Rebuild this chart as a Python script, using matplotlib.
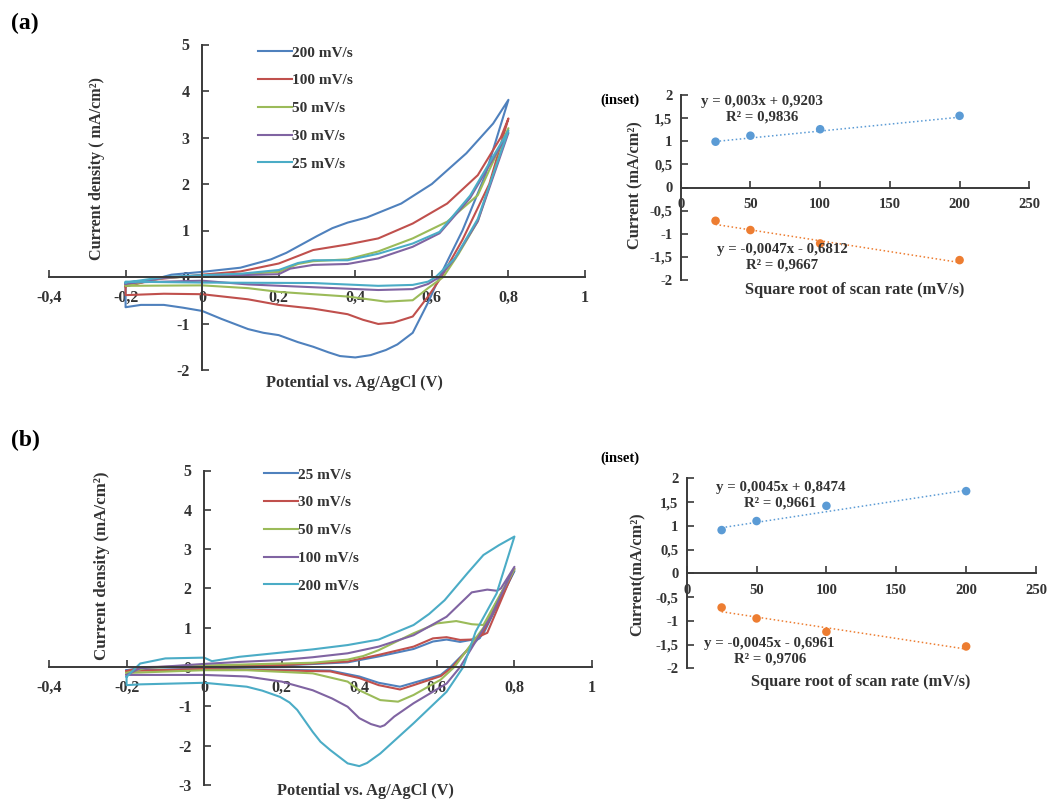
import matplotlib
matplotlib.use("Agg")
import matplotlib.pyplot as plt
from matplotlib.ticker import FuncFormatter

W, H = 1048, 802

plt.rcParams["font.family"] = ["Liberation Serif", "DejaVu Serif"]
plt.rcParams["font.weight"] = "bold"
plt.rcParams["axes.labelweight"] = "bold"

# ---- CV loops, panel (a): (potential V, current density mA/cm2) ----
a_labels = ["200 mV/s", "100 mV/s", "50 mV/s", "30 mV/s", "25 mV/s"]
a200 = [(-0.2, -0.2), (-0.14, -0.08), (-0.08, 0.05), (0, 0.11), (0.1, 0.2), (0.18, 0.38),
        (0.22, 0.52), (0.26, 0.7), (0.3, 0.88), (0.34, 1.05), (0.38, 1.17), (0.43, 1.28),
        (0.52, 1.58), (0.6, 2.0), (0.69, 2.66), (0.76, 3.3), (0.8, 3.81),
        (0.74, 2.2), (0.68, 1.0), (0.62, 0.0), (0.59, -0.55), (0.55, -1.2), (0.51, -1.45),
        (0.48, -1.57), (0.44, -1.68), (0.4, -1.73), (0.36, -1.7), (0.33, -1.62),
        (0.29, -1.5), (0.25, -1.4), (0.2, -1.25), (0.16, -1.2), (0.12, -1.12), (0.05, -0.9),
        (0, -0.73), (-0.05, -0.66), (-0.1, -0.6), (-0.16, -0.6), (-0.2, -0.65), (-0.2, -0.2)]
a100 = [(-0.2, -0.2), (-0.12, -0.05), (0, 0.05), (0.1, 0.12), (0.2, 0.29), (0.25, 0.45),
        (0.29, 0.58), (0.38, 0.7), (0.46, 0.83), (0.55, 1.15), (0.64, 1.58), (0.72, 2.19),
        (0.78, 3.0), (0.8, 3.41),
        (0.75, 2.0), (0.68, 0.8), (0.625, 0.0), (0.59, -0.42), (0.55, -0.85), (0.5, -0.98),
        (0.46, -1.01), (0.42, -0.92), (0.38, -0.8), (0.29, -0.68), (0.2, -0.6), (0.12, -0.48),
        (0, -0.37), (-0.1, -0.36), (-0.2, -0.39), (-0.2, -0.2)]
a50 = [(-0.2, -0.18), (-0.1, -0.02), (0, 0.02), (0.1, 0.06), (0.2, 0.11), (0.25, 0.28),
       (0.29, 0.34), (0.38, 0.38), (0.46, 0.55), (0.55, 0.83), (0.64, 1.19), (0.72, 1.76),
       (0.8, 3.2),
       (0.72, 1.2), (0.67, 0.5), (0.63, 0.0), (0.59, -0.24), (0.55, -0.5), (0.48, -0.53),
       (0.38, -0.42), (0.29, -0.37), (0.2, -0.32), (0.12, -0.24), (0, -0.18), (-0.2, -0.19),
       (-0.2, -0.18)]
a30 = [(-0.2, -0.15), (-0.1, -0.02), (0, 0.03), (0.1, 0.04), (0.2, 0.06), (0.23, 0.18),
       (0.29, 0.26), (0.38, 0.28), (0.46, 0.4), (0.55, 0.65), (0.62, 0.94), (0.7, 1.7),
       (0.8, 3.1),
       (0.72, 1.2), (0.66, 0.4), (0.62, 0.0), (0.59, -0.15), (0.55, -0.26), (0.46, -0.28),
       (0.29, -0.22), (0.12, -0.16), (0, -0.08), (-0.2, -0.12), (-0.2, -0.15)]
a25 = [(-0.2, -0.12), (-0.1, 0.0), (0, 0.04), (0.1, 0.07), (0.2, 0.15), (0.25, 0.3),
       (0.29, 0.36), (0.38, 0.36), (0.46, 0.5), (0.55, 0.72), (0.62, 0.97), (0.7, 1.75),
       (0.8, 3.15),
       (0.72, 1.25), (0.66, 0.4), (0.61, 0.0), (0.59, -0.1), (0.55, -0.17), (0.46, -0.19),
       (0.29, -0.13), (0, -0.12), (-0.2, -0.1), (-0.2, -0.12)]

# ---- CV loops, panel (b) ----
b_labels = ["25 mV/s", "30 mV/s", "50 mV/s", "100 mV/s", "200 mV/s"]
b25 = [(-0.2, -0.08), (-0.15, 0.0), (0, 0.01), (0.2, 0.04), (0.37, 0.12), (0.45, 0.27),
       (0.54, 0.46), (0.59, 0.65), (0.625, 0.7), (0.66, 0.64), (0.71, 0.73), (0.8, 2.45),
       (0.72, 0.85), (0.635, 0.0), (0.61, -0.2), (0.54, -0.4), (0.505, -0.5), (0.45, -0.4),
       (0.4, -0.24), (0.325, -0.09), (0, -0.04), (-0.2, -0.08)]
b30 = [(-0.2, -0.1), (-0.15, 0.0), (0, 0.02), (0.2, 0.05), (0.37, 0.14), (0.45, 0.31),
       (0.54, 0.52), (0.59, 0.73), (0.625, 0.76), (0.66, 0.69), (0.69, 0.7), (0.73, 0.87),
       (0.8, 2.5),
       (0.72, 0.9), (0.64, 0.0), (0.61, -0.23), (0.54, -0.46), (0.505, -0.57), (0.45, -0.46),
       (0.4, -0.28), (0.325, -0.11), (0, -0.05), (-0.2, -0.1)]
b50 = [(-0.2, -0.15), (-0.15, -0.02), (0, 0.04), (0.2, 0.09), (0.28, 0.11), (0.37, 0.19),
       (0.41, 0.28), (0.45, 0.43), (0.54, 0.86), (0.6, 1.11), (0.65, 1.17), (0.69, 1.09),
       (0.72, 1.07), (0.8, 2.5),
       (0.72, 1.0), (0.645, 0.0), (0.61, -0.32), (0.54, -0.71), (0.5, -0.88), (0.454, -0.84),
       (0.4, -0.59), (0.37, -0.37), (0.28, -0.16), (0.11, -0.08), (0, -0.08), (-0.2, -0.15)]
b100 = [(-0.2, -0.2), (-0.165, -0.03), (0, 0.08), (0.09, 0.13), (0.2, 0.18), (0.28, 0.25),
        (0.37, 0.35), (0.45, 0.52), (0.54, 0.81), (0.625, 1.28), (0.69, 1.9), (0.73, 1.97),
        (0.755, 1.94), (0.765, 2.0), (0.8, 2.55),
        (0.74, 1.3), (0.66, 0.0), (0.625, -0.42), (0.54, -0.92), (0.49, -1.26), (0.465, -1.48),
        (0.454, -1.52), (0.43, -1.45), (0.4, -1.3), (0.37, -1.01), (0.33, -0.8), (0.28, -0.59),
        (0.2, -0.37), (0.11, -0.24), (0, -0.2), (-0.2, -0.2)]
b200 = [(-0.2, -0.25), (-0.165, 0.09), (-0.1, 0.22), (0, 0.24), (0.02, 0.15), (0.09, 0.26),
        (0.18, 0.35), (0.28, 0.45), (0.37, 0.56), (0.45, 0.7), (0.54, 1.07), (0.58, 1.35),
        (0.62, 1.7), (0.68, 2.4), (0.72, 2.85), (0.76, 3.1), (0.8, 3.32),
        (0.754, 1.87), (0.7, 0.9), (0.668, 0.0), (0.625, -0.63), (0.54, -1.43), (0.454, -2.2),
        (0.42, -2.44), (0.4, -2.52), (0.37, -2.45), (0.325, -2.11), (0.3, -1.9),
        (0.28, -1.65), (0.24, -1.09), (0.22, -0.9), (0.196, -0.76), (0.15, -0.6),
        (0.11, -0.5), (0, -0.4), (-0.165, -0.44), (-0.2, -0.46), (-0.2, -0.25)]

cv_colors = ["#4F81BD", "#C0504D", "#9BBB59", "#8064A2", "#4BACC6"]

# ---- peak current vs scan rate (insets) ----
rate = [25, 50, 100, 200]
a_ipa = [0.99, 1.12, 1.26, 1.55]
a_ipc = [-0.72, -0.92, -1.21, -1.57]
b_ipa = [0.91, 1.10, 1.42, 1.73]
b_ipc = [-0.72, -0.95, -1.23, -1.54]
# linear fits (slope, intercept, R2)
a_fit_up = (0.003, 0.9203, 0.9836)
a_fit_dn = (-0.0047, -0.6812, 0.9667)
b_fit_up = (0.0045, 0.8474, 0.9661)
b_fit_dn = (-0.0045, -0.6961, 0.9706)

AX_COLOR = "#3a3a3a"


def comma(v, _=None):
    s = f"{v:g}"
    if s == "-0":
        s = "0"
    return s.replace(".", ",")


def fig_box(x0, y0, x1, y1):
    """pixel box (left, top, right, bottom) -> figure fraction rect"""
    return [x0 / W, 1 - y1 / H, (x1 - x0) / W, (y1 - y0) / H]


def fig_text(fig, x, y, s, **kw):
    kw.setdefault("ha", "center")
    kw.setdefault("va", "center")
    kw.setdefault("color", "#333333")
    fig.text(x / W, 1 - y / H, s, **kw)


def cross_axes(ax, xlim, ylim, xticks, yticks, fs, xpad, ypad):
    ax.set_xlim(*xlim)
    ax.set_ylim(*ylim)
    for side in ("top", "right"):
        ax.spines[side].set_visible(False)
    for side in ("left", "bottom"):
        ax.spines[side].set_position(("data", 0))
        ax.spines[side].set_linewidth(1.4)
        ax.spines[side].set_color(AX_COLOR)
    ax.set_xticks(xticks)
    ax.set_yticks(yticks)
    ax.xaxis.set_major_formatter(FuncFormatter(comma))
    ax.yaxis.set_major_formatter(FuncFormatter(comma))
    ax.tick_params(direction="in", length=5, width=1.2, color=AX_COLOR,
                   labelsize=fs, labelcolor="#333333")
    ax.tick_params(axis="x", pad=xpad)
    ax.tick_params(axis="y", pad=ypad)
    ax.patch.set_alpha(0)


def cv_panel(fig, box, loops, labels, ylim, yticks, leg_xy):
    ax = fig.add_axes(fig_box(*box))
    cross_axes(ax, (-0.4, 1.0), ylim, [-0.4, -0.2, 0, 0.2, 0.4, 0.6, 0.8, 1.0],
               yticks, 11.5, 9, 9)
    for pts, lab, col in zip(loops, labels, cv_colors):
        e, j = zip(*pts)
        ax.plot(e, j, color=col, lw=1.5, label=lab, solid_joinstyle="round")
    fig.legend(loc="upper left", bbox_to_anchor=(leg_xy[0] / W, 1 - leg_xy[1] / H),
               frameon=False, fontsize=11, handlelength=2.2, handletextpad=0.05,
               labelspacing=0.92, borderpad=0, borderaxespad=0,
               handles=ax.get_lines(), labelcolor="#333333")
    return ax


def inset_panel(fig, box, y_up, y_dn, fit_up, fit_dn):
    ax = fig.add_axes(fig_box(*box))
    cross_axes(ax, (0, 250), (-2, 2), [0, 50, 100, 150, 200, 250],
               [-2, -1.5, -1, -0.5, 0, 0.5, 1, 1.5, 2], 10.5, 7.5, 6)
    for y, fit, col in ((y_up, fit_up, "#5B9BD5"), (y_dn, fit_dn, "#ED7D31")):
        ax.scatter(rate, y, s=38, color=col, zorder=3, edgecolors="none")
        m, b, _ = fit
        xs = [rate[0], rate[-1]]
        ax.plot(xs, [m * x + b for x in xs], color=col, lw=1.1, ls=":", zorder=2)
    return ax


def fit_text(fit):
    m, b, r2 = fit
    sign = "+" if b >= 0 else "-"
    return f"y = {comma(m)}x {sign} {comma(abs(b))}", f"R² = {comma(r2)}"


fig = plt.figure(figsize=(W / 100, H / 100), dpi=100)

# panel (a)
cv_panel(fig, (49, 44.5, 585, 370), [a200, a100, a50, a30, a25], a_labels,
         (-2, 5), [-2, -1, 0, 1, 2, 3, 4, 5], (258, 46))
inset_panel(fig, (680.7, 95, 1029.3, 280), a_ipa, a_ipc, a_fit_up, a_fit_dn)

# panel (b)
cv_panel(fig, (49, 470.5, 592, 785), [b25, b30, b50, b100, b200], b_labels,
         (-3, 5), [-3, -2, -1, 0, 1, 2, 3, 4, 5], (264, 468))
inset_panel(fig, (686.7, 478.3, 1036, 668.3), b_ipa, b_ipc, b_fit_up, b_fit_dn)

# panel tags
fig_text(fig, 25, 23, "(a)", fontsize=17, color="black")
fig_text(fig, 25, 440, "(b)", fontsize=17, color="black")
fig_text(fig, 620, 100, "(inset)", fontsize=10.5, color="black")
fig_text(fig, 620, 458, "(inset)", fontsize=10.5, color="black")

# axis titles
fig_text(fig, 354, 383, "Potential vs. Ag/AgCl (V)", fontsize=11.8)
fig_text(fig, 365, 791, "Potential vs. Ag/AgCl (V)", fontsize=11.8)
fig_text(fig, 97, 168, "Current density ( mA/cm²)", fontsize=11.6, rotation=90)
fig_text(fig, 102, 566, "Current density (mA/cm²)", fontsize=12.2, rotation=90)
fig_text(fig, 635, 185, "Current (mA/cm²)", fontsize=11.8, rotation=90)
fig_text(fig, 638, 574, "Current(mA/cm²)", fontsize=11.8, rotation=90)
fig_text(fig, 855, 290, "Square root of scan rate (mV/s)", fontsize=11.8)
fig_text(fig, 861, 682, "Square root of scan rate (mV/s)", fontsize=11.8)

# fit equations
for (x1, y1, x2, y2), fit in (((762, 101, 762, 117), a_fit_up),
                              ((782, 249, 782, 265), a_fit_dn),
                              ((781, 488, 780, 503), b_fit_up),
                              ((769, 643, 770, 659), b_fit_dn)):
    eq, r2 = fit_text(fit)
    fig_text(fig, x1, y1, eq, fontsize=10.7)
    fig_text(fig, x2, y2, r2, fontsize=10.7)

fig.savefig("out.png", dpi=100, facecolor="white")
